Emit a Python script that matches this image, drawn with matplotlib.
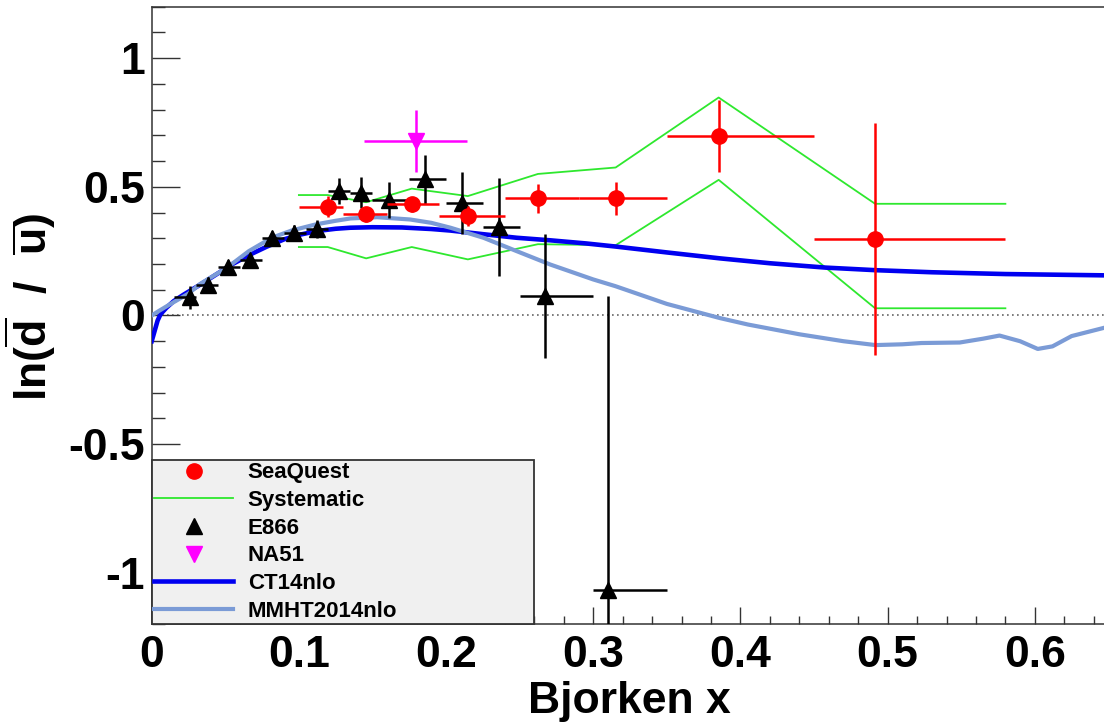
import matplotlib.pyplot as plt
from matplotlib.lines import Line2D
from matplotlib.ticker import MultipleLocator, FuncFormatter

plt.rcParams['font.family'] = 'Liberation Sans'
plt.rcParams['font.weight'] = 'bold'
plt.rcParams['axes.unicode_minus'] = False
plt.rcParams['mathtext.fontset'] = 'custom'
plt.rcParams['mathtext.rm'] = 'Liberation Sans:bold'
plt.rcParams['mathtext.bf'] = 'Liberation Sans:bold'
plt.rcParams['mathtext.it'] = 'Liberation Sans:bold'

# SeaQuest points, x bins and errors
sq_x = [0.1196, 0.1457, 0.1767, 0.2148, 0.2624, 0.3152, 0.3852, 0.4915]
sq_y = [0.423, 0.393, 0.432, 0.386, 0.455, 0.455, 0.698, 0.298]
sq_yerr = [0.04, 0.03, 0.03, 0.04, 0.055, 0.065, 0.14, 0.45]
sq_lo = [0.10, 0.13, 0.16, 0.195, 0.24, 0.29, 0.35, 0.45]
sq_hi = [0.13, 0.16, 0.195, 0.24, 0.29, 0.35, 0.45, 0.58]

# systematic band edges
sys_x = [0.10, 0.1196, 0.1457, 0.1767, 0.2148, 0.2624, 0.3152, 0.3852, 0.4915, 0.58]
sys_up = [0.468, 0.468, 0.44, 0.493, 0.464, 0.55, 0.575, 0.847, 0.434, 0.434]
sys_dn = [0.266, 0.266, 0.222, 0.266, 0.218, 0.277, 0.273, 0.527, 0.028, 0.028]

# E866
e866_x = [0.026, 0.038, 0.052, 0.067, 0.082, 0.097, 0.112, 0.127, 0.142, 0.161,
          0.186, 0.211, 0.236, 0.267, 0.310]
e866_y = [0.07, 0.12, 0.189, 0.214, 0.300, 0.321, 0.335, 0.484, 0.477, 0.449,
          0.529, 0.436, 0.344, 0.075, -1.066]
e866_yerr = [0.045, 0.03, 0.025, 0.025, 0.03, 0.03, 0.035, 0.05, 0.06, 0.07,
             0.095, 0.12, 0.19, 0.24, 1.14]
e866_lo = [0.015, 0.030, 0.045, 0.060, 0.075, 0.090, 0.105, 0.120, 0.135, 0.150,
           0.175, 0.200, 0.225, 0.250, 0.300]
e866_hi = [0.030, 0.045, 0.060, 0.075, 0.090, 0.105, 0.120, 0.135, 0.150, 0.175,
           0.200, 0.225, 0.250, 0.300, 0.350]

# NA51
na51_x = [0.1795]
na51_y = [0.678]
na51_xerr = [0.035]
na51_yerr = [0.12]

# CT14nlo curve
ct_x = [0.0, 0.002, 0.004, 0.006, 0.010, 0.015, 0.022, 0.033, 0.044, 0.055, 0.067,
        0.078, 0.090, 0.100, 0.112, 0.125, 0.135, 0.150, 0.170, 0.190, 0.203, 0.225,
        0.248, 0.271, 0.295, 0.315, 0.350, 0.386, 0.420, 0.458, 0.492, 0.530, 0.580,
        0.620, 0.647]
ct_y = [-0.10, -0.06, -0.02, 0.005, 0.03, 0.056, 0.082, 0.12, 0.16, 0.20, 0.237,
        0.267, 0.296, 0.313, 0.328, 0.337, 0.341, 0.343, 0.342, 0.336, 0.330, 0.316,
        0.302, 0.292, 0.28, 0.268, 0.245, 0.222, 0.203, 0.186, 0.176, 0.168, 0.161,
        0.158, 0.156]

# MMHT2014nlo curve
mm_x = [0.0, 0.005, 0.012, 0.025, 0.033, 0.051, 0.066, 0.0816, 0.095, 0.1115, 0.125,
        0.135, 0.153, 0.1756, 0.190, 0.203, 0.2254, 0.248, 0.2708, 0.30, 0.315, 0.35,
        0.386, 0.405, 0.44, 0.47, 0.4917, 0.51, 0.523, 0.549, 0.565, 0.576, 0.59,
        0.602, 0.612, 0.625, 0.647]
mm_y = [0.0, 0.018, 0.042, 0.085, 0.123, 0.185, 0.25, 0.302, 0.33, 0.354, 0.368,
        0.377, 0.382, 0.373, 0.36, 0.341, 0.302, 0.25, 0.198, 0.14, 0.114, 0.045,
        -0.01, -0.035, -0.073, -0.10, -0.115, -0.112, -0.107, -0.105, -0.09, -0.078,
        -0.10, -0.13, -0.12, -0.08, -0.048]

labels = ['SeaQuest', 'Systematic', 'E866', 'NA51', 'CT14nlo', 'MMHT2014nlo']

green = '#2ee82e'
mmht_col = '#7b9bd6'

fig = plt.figure(figsize=(11.04, 7.25), dpi=100)
ax = fig.add_axes([0.1374, 0.1389, 0.8626, 0.8519])

ax.axhline(0, color='#666666', ls=(0, (1, 2)), lw=1.2, zorder=1)

ax.plot(sys_x, sys_up, color=green, lw=1.3, zorder=2)
ax.plot(sys_x, sys_dn, color=green, lw=1.3, zorder=2)

ax.plot(ct_x, ct_y, color='#0000f0', lw=3.3, zorder=3)
ax.plot(mm_x, mm_y, color=mmht_col, lw=3.0, zorder=3)

e_xerr = [[x - l for x, l in zip(e866_x, e866_lo)], [h - x for x, h in zip(e866_x, e866_hi)]]
ax.errorbar(e866_x, e866_y, yerr=e866_yerr, xerr=e_xerr, fmt='^', color='black',
            ms=11, elinewidth=1.8, capsize=0, zorder=4)

ax.errorbar(na51_x, na51_y, yerr=na51_yerr, xerr=na51_xerr, fmt='v', color='#ff00ff',
            ms=11, elinewidth=1.8, capsize=0, zorder=4)

s_xerr = [[x - l for x, l in zip(sq_x, sq_lo)], [h - x for x, h in zip(sq_x, sq_hi)]]
ax.errorbar(sq_x, sq_y, yerr=sq_yerr, xerr=s_xerr, fmt='o', color='#ff0000',
            ms=11, elinewidth=1.8, capsize=0, zorder=5)

ax.set_xlim(0, 0.647)
ax.set_ylim(-1.2, 1.2)

ax.xaxis.set_major_locator(MultipleLocator(0.1))
ax.xaxis.set_minor_locator(MultipleLocator(0.02))
ax.yaxis.set_major_locator(MultipleLocator(0.5))
ax.yaxis.set_minor_locator(MultipleLocator(0.1))
fmt = FuncFormatter(lambda v, p: '%g' % round(v, 3))
ax.xaxis.set_major_formatter(fmt)
ax.yaxis.set_major_formatter(fmt)

ax.tick_params(axis='both', which='both', direction='in', top=False, right=False,
               color='#333333', width=1.0, labelsize=32)
ax.tick_params(axis='x', which='major', length=12.5, pad=8)
ax.tick_params(axis='x', which='minor', length=6)
ax.tick_params(axis='y', which='major', length=20, pad=5)
ax.tick_params(axis='y', which='minor', length=9.6)
for lab in ax.get_xticklabels() + ax.get_yticklabels():
    lab.set_fontweight('bold')

for s in ax.spines.values():
    s.set_linewidth(1.1)
    s.set_color('#333333')
ax.spines['right'].set_visible(False)

ax.set_xlabel('Bjorken x', fontsize=32, fontweight='bold')
ax.xaxis.set_label_coords(0.502, -0.092)
ax.set_ylabel(r'$\mathrm{ln(\overline{d}\ \ /\ \ \overline{u})}$', fontsize=32)
ax.yaxis.set_label_coords(-0.098, 0.514)

handles = [
    Line2D([], [], ls='none', marker='o', color='#ff0000', ms=11),
    Line2D([], [], color=green, lw=1.3),
    Line2D([], [], ls='none', marker='^', color='black', ms=11),
    Line2D([], [], ls='none', marker='v', color='#ff00ff', ms=11),
    Line2D([], [], color='#0000f0', lw=3.3),
    Line2D([], [], color=mmht_col, lw=3.0),
]
leg = ax.legend(handles, labels, loc='lower left', bbox_to_anchor=(0, 0, 0.4015, 0.2677),
                mode='expand', borderaxespad=0, fancybox=False, framealpha=1,
                facecolor='#f0f0f0', edgecolor='#333333',
                prop=dict(family='Liberation Sans', weight='bold', size=16),
                handlelength=3.55, handletextpad=0.65, labelspacing=0.3, borderpad=0.12)
leg.get_frame().set_linewidth(1.3)
leg.set_zorder(10)

fig.savefig('out.png', dpi=100)
